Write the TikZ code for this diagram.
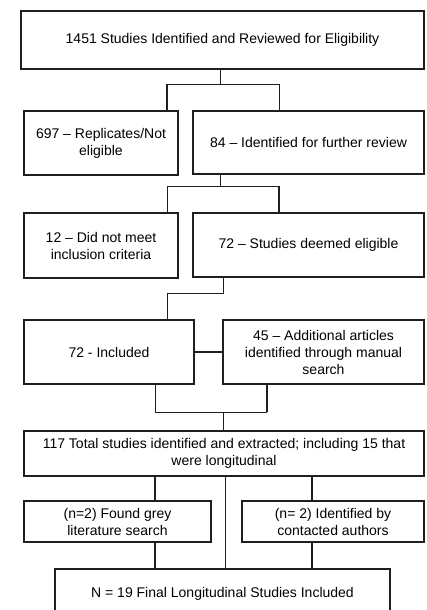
\documentclass[tikz,border=0pt]{standalone}
\usepackage{fontspec}
\setmainfont{Liberation Sans}
\newcommand{\linecol}{black!88}
\tikzset{
  stagebox/.style={draw=\linecol, line width=2.6pt, align=center, inner sep=2pt,
    font=\fontsize{14}{17}\selectfont},
  link/.style={draw=\linecol, line width=0.9pt},
  boldlink/.style={draw=\linecol, line width=1.7pt}
}
\begin{document}
\begin{tikzpicture}[x=1pt, y=-1pt]

    \useasboundingbox[fill=white] (0, 0) rectangle (426, 610);

    \node[stagebox, minimum width=403, minimum height=58] (ident) at (222.5, 40) {1451 Studies Identified and Reviewed for Eligibility};

    \node[stagebox, minimum width=154, minimum height=64] (repl) at (101, 143) {697 -- Replicates/Not\\eligible};
    \node[stagebox, minimum width=231, minimum height=63] (further) at (308.5, 142.5) {84 -- Identified for further review};

    \node[stagebox, minimum width=154, minimum height=65] (notmet) at (101, 245.5) {12 -- Did not meet\\inclusion criteria};
    \node[stagebox, minimum width=231, minimum height=64] (eligible) at (308.5, 245) {72 -- Studies deemed eligible};

    \node[stagebox, minimum width=170, minimum height=64] (incl) at (109, 352) {72 - Included};
    \node[stagebox, minimum width=201, minimum height=64] (manual) at (323.5, 352) {45 -- Additional articles\\identified through manual\\search};

    \node[stagebox, minimum width=400, minimum height=45] (total) at (224, 453.5) {117 Total studies identified and extracted; including 15 that\\were longitudinal};

    \node[stagebox, minimum width=187, minimum height=41] (grey) at (117.5, 521.5) {(n=2) Found grey\\literature search};
    \node[stagebox, minimum width=182, minimum height=41] (authors) at (333, 521.5) {(n= 2) Identified by\\contacted authors};

    \node[stagebox, minimum width=335, minimum height=50, anchor=north] (final) at (222.5, 567.5) {N = 19 Final Longitudinal Studies Included};

    \coordinate (s1) at (220, 84);
    \coordinate (s1l) at (167, 84);
    \coordinate (s1r) at (279, 84);
    \draw[link] (ident.south -| s1) -- (s1);
    \draw[link] (s1l) -- (s1r);
    \draw[boldlink] (s1l) -- (s1l |- repl.north);
    \draw[link] (s1r) -- (s1r |- further.north);

    \coordinate (s2) at (220, 186);
    \coordinate (s2l) at (167, 186);
    \coordinate (s2r) at (279, 186);
    \draw[link] (further.south -| s2) -- (s2);
    \draw[link] (s2l) -- (s2r);
    \draw[link] (s2l) -- (s2l |- notmet.north);
    \draw[boldlink] (s2r) -- (s2r |- eligible.north);

    \coordinate (s3) at (223, 293);
    \coordinate (s3l) at (167, 293);
    \draw[link] (eligible.south -| s3) -- (s3) -- (s3l) -- (s3l |- incl.north);

    \draw[boldlink] (incl.east) -- (incl.east -| manual.west);

    \coordinate (m1) at (155, 412);
    \coordinate (m2) at (267, 412);
    \coordinate (m3) at (223, 412);
    \draw[link] (incl.south -| m1) -- (m1) -- (m2);
    \draw[boldlink] (manual.south -| m2) -- (m2);
    \draw[link] (m3) -- (m3 |- total.north);

    \coordinate (gx) at (155, 0);
    \coordinate (ax) at (312, 0);
    \coordinate (cx) at (225, 0);
    \draw[boldlink] (total.south -| gx) -- (grey.north -| gx);
    \draw[boldlink] (total.south -| ax) -- (authors.north -| ax);
    \draw[boldlink] (grey.south -| gx) -- (final.north -| gx);
    \draw[boldlink] (authors.south -| ax) -- (final.north -| ax);
    \draw[link] (total.south -| cx) -- (final.north -| cx);

\end{tikzpicture}
\end{document}
